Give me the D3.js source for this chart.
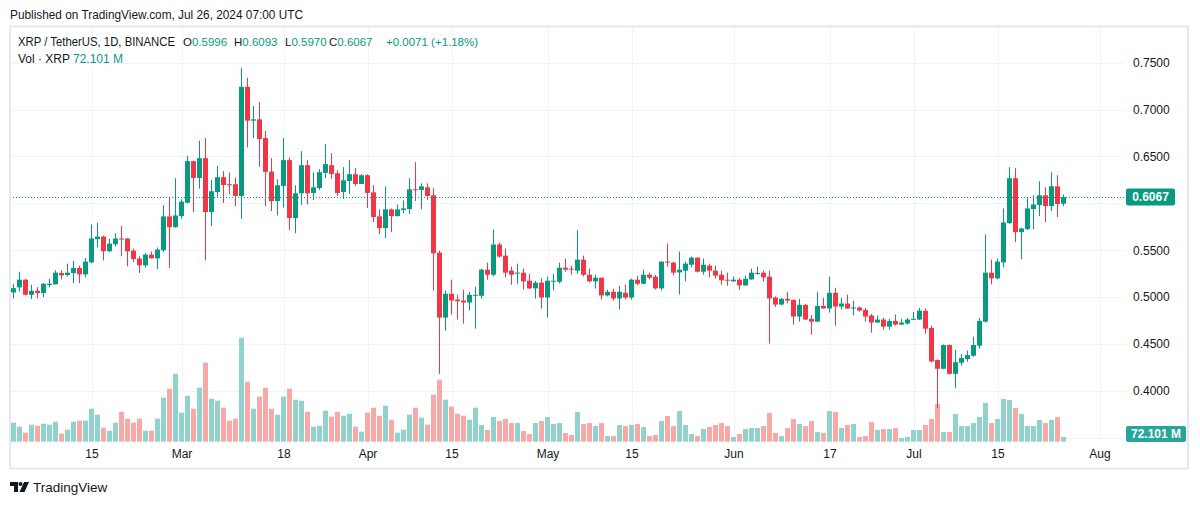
<!DOCTYPE html>
<html><head><meta charset="utf-8">
<script src="https://cdn.jsdelivr.net/npm/d3@7"></script>
<style>
body{margin:0;background:#fff;}
svg{display:block;font-family:"Liberation Sans",Arial,sans-serif;}
</style>
</head><body>
<svg id="chart" width="1200" height="505"></svg>
<script>
// ---------- data (XRP / TetherUS, 1D, BINANCE) ----------
const firstDay = "2024-02-02";
const lastDay = "2024-07-26";
const open = [0.5050,0.5104,0.5186,0.5025,0.5068,0.5043,0.5129,0.5136,0.5257,0.5236,0.5257,0.5311,0.5243,0.5371,0.5618,0.5646,0.5489,0.5564,0.5625,0.5625,0.5496,0.5411,0.5339,0.5454,0.5414,0.5500,0.5861,0.5746,0.5864,0.6007,0.6450,0.6271,0.6482,0.5907,0.6121,0.6279,0.6204,0.6204,0.6079,0.7243,0.6882,0.6896,0.6696,0.6339,0.6025,0.6186,0.6461,0.5843,0.6107,0.6407,0.6111,0.6164,0.6325,0.6407,0.6321,0.6121,0.6239,0.6311,0.6207,0.6300,0.6118,0.5861,0.5736,0.5936,0.5864,0.5929,0.5939,0.6150,0.6143,0.6171,0.6086,0.5475,0.4782,0.5036,0.4975,0.4964,0.4943,0.5018,0.5014,0.5293,0.5239,0.5561,0.5443,0.5282,0.5254,0.5261,0.5175,0.5093,0.5154,0.4996,0.5168,0.5164,0.5314,0.5304,0.5282,0.5400,0.5239,0.5168,0.5207,0.5018,0.5057,0.4986,0.5046,0.4996,0.5186,0.5143,0.5239,0.5218,0.5093,0.5379,0.5368,0.5264,0.5282,0.5346,0.5421,0.5271,0.5336,0.5282,0.5239,0.5186,0.5168,0.5186,0.5125,0.5189,0.5250,0.5261,0.5218,0.4996,0.4921,0.4982,0.4971,0.4793,0.4918,0.4768,0.4739,0.4907,0.4879,0.5046,0.4900,0.4932,0.4882,0.4889,0.4864,0.4804,0.4729,0.4761,0.4686,0.4746,0.4707,0.4718,0.4761,0.4761,0.4854,0.4671,0.4329,0.4236,0.4489,0.4182,0.4300,0.4339,0.4375,0.4482,0.4739,0.5261,0.5200,0.5371,0.5789,0.6268,0.5693,0.5725,0.5939,0.5982,0.6086,0.5971,0.6182,0.5996];
const high = [0.5143,0.5271,0.5193,0.5132,0.5107,0.5150,0.5196,0.5286,0.5286,0.5357,0.5386,0.5336,0.5418,0.5775,0.5793,0.5657,0.5621,0.5682,0.5757,0.5632,0.5518,0.5436,0.5471,0.5486,0.5529,0.5982,0.6071,0.6268,0.6043,0.6507,0.6455,0.6668,0.6696,0.6250,0.6400,0.6343,0.6329,0.6275,0.7446,0.7339,0.7036,0.7079,0.6771,0.6482,0.6257,0.6696,0.6489,0.6193,0.6557,0.6461,0.6329,0.6364,0.6632,0.6536,0.6354,0.6386,0.6461,0.6375,0.6311,0.6311,0.6193,0.5936,0.6182,0.5946,0.5989,0.6032,0.6268,0.6439,0.6214,0.6214,0.6161,0.5496,0.5071,0.5186,0.5025,0.5079,0.5057,0.5111,0.5304,0.5368,0.5721,0.5582,0.5518,0.5325,0.5357,0.5304,0.5250,0.5175,0.5200,0.5218,0.5250,0.5368,0.5411,0.5336,0.5711,0.5443,0.5304,0.5239,0.5210,0.5079,0.5089,0.5121,0.5132,0.5196,0.5229,0.5293,0.5261,0.5239,0.5382,0.5571,0.5379,0.5486,0.5379,0.5432,0.5424,0.5411,0.5357,0.5336,0.5282,0.5261,0.5218,0.5207,0.5229,0.5304,0.5325,0.5282,0.5282,0.5007,0.4993,0.5057,0.4975,0.4982,0.4925,0.4811,0.5057,0.4993,0.5218,0.5100,0.4993,0.5025,0.4961,0.4900,0.4886,0.4821,0.4804,0.4779,0.4768,0.4814,0.4768,0.4779,0.4843,0.4886,0.4879,0.4696,0.4335,0.4495,0.4495,0.4436,0.4393,0.4429,0.4579,0.4779,0.5668,0.5400,0.5411,0.5946,0.6386,0.6375,0.5740,0.6054,0.6086,0.6236,0.6171,0.6332,0.6300,0.6093];
const low = [0.4986,0.5061,0.5018,0.4979,0.4986,0.5000,0.5104,0.5136,0.5189,0.5221,0.5150,0.5150,0.5211,0.5360,0.5532,0.5393,0.5479,0.5543,0.5436,0.5329,0.5375,0.5257,0.5318,0.5411,0.5300,0.5479,0.5311,0.5740,0.5836,0.6000,0.5907,0.6157,0.5393,0.5757,0.6071,0.6004,0.6096,0.5971,0.5836,0.6596,0.6696,0.6389,0.5971,0.5918,0.5871,0.5954,0.5714,0.5682,0.5982,0.5989,0.6036,0.6143,0.6271,0.6261,0.6079,0.6046,0.6100,0.6186,0.6204,0.5950,0.5800,0.5671,0.5629,0.5693,0.5861,0.5896,0.5886,0.6025,0.5939,0.6036,0.5071,0.4182,0.4643,0.4814,0.4761,0.4718,0.4857,0.4664,0.4986,0.5186,0.5221,0.5421,0.5211,0.5132,0.5143,0.5082,0.5086,0.4986,0.4879,0.4782,0.5071,0.5146,0.5271,0.5239,0.5250,0.5221,0.5157,0.5093,0.4975,0.5007,0.4964,0.4868,0.4975,0.4975,0.5125,0.5136,0.5189,0.5082,0.5071,0.5325,0.5232,0.5029,0.5168,0.5318,0.5264,0.5239,0.5211,0.5200,0.5132,0.5121,0.5164,0.5079,0.5121,0.5186,0.5239,0.5168,0.4504,0.4896,0.4911,0.4932,0.4707,0.4739,0.4755,0.4600,0.4735,0.4879,0.4836,0.4696,0.4868,0.4875,0.4804,0.4846,0.4739,0.4621,0.4725,0.4654,0.4654,0.4696,0.4704,0.4707,0.4758,0.4757,0.4611,0.4304,0.3818,0.4230,0.4175,0.4029,0.4268,0.4311,0.4364,0.4450,0.4730,0.5136,0.5190,0.5318,0.5780,0.5586,0.5404,0.5714,0.5725,0.5864,0.5800,0.5918,0.5854,0.5970];
const close = [0.5096,0.5186,0.5025,0.5068,0.5043,0.5143,0.5143,0.5261,0.5232,0.5261,0.5311,0.5243,0.5379,0.5625,0.5646,0.5489,0.5571,0.5625,0.5614,0.5489,0.5407,0.5339,0.5454,0.5414,0.5507,0.5861,0.5746,0.5871,0.6018,0.6450,0.6271,0.6482,0.5907,0.6129,0.6279,0.6196,0.6193,0.6079,0.7243,0.6882,0.6896,0.6686,0.6336,0.6025,0.6193,0.6461,0.5843,0.6107,0.6407,0.6107,0.6171,0.6332,0.6418,0.6314,0.6111,0.6246,0.6311,0.6207,0.6300,0.6111,0.5854,0.5736,0.5936,0.5864,0.5936,0.5946,0.6150,0.6143,0.6182,0.6079,0.5468,0.4782,0.5036,0.4964,0.4957,0.4943,0.5025,0.5025,0.5293,0.5239,0.5561,0.5432,0.5261,0.5239,0.5261,0.5168,0.5093,0.5154,0.4996,0.5175,0.5175,0.5314,0.5293,0.5296,0.5400,0.5239,0.5168,0.5207,0.5018,0.5057,0.4986,0.5057,0.4996,0.5186,0.5143,0.5239,0.5207,0.5093,0.5379,0.5371,0.5261,0.5293,0.5357,0.5421,0.5271,0.5346,0.5282,0.5229,0.5179,0.5179,0.5186,0.5125,0.5196,0.5261,0.5257,0.5211,0.4986,0.4921,0.4982,0.4964,0.4793,0.4918,0.4761,0.4739,0.4907,0.4879,0.5046,0.4900,0.4932,0.4879,0.4889,0.4857,0.4793,0.4729,0.4761,0.4686,0.4746,0.4707,0.4729,0.4761,0.4768,0.4857,0.4664,0.4314,0.4236,0.4489,0.4182,0.4307,0.4350,0.4382,0.4489,0.4746,0.5261,0.5200,0.5379,0.5796,0.6268,0.5693,0.5732,0.5946,0.5989,0.6086,0.5971,0.6182,0.5993,0.6067];
const volume = [293,231,139,262,246,277,262,308,123,185,308,324,324,508,416,216,169,293,462,354,293,354,169,169,354,678,816,1047,447,708,508,832,1217,662,631,524,324,354,1602,924,508,693,832,508,416,693,816,647,631,462,231,246,477,385,462,400,431,231,154,447,524,400,554,339,139,185,416,524,370,262,724,955,647,539,431,400,339,524,257,180,380,318,349,287,287,164,118,287,318,380,272,287,134,103,457,272,287,241,287,87,87,257,241,257,272,226,87,103,318,396,241,472,257,118,87,195,226,257,287,241,72,118,195,210,210,241,442,134,87,210,349,272,241,318,149,134,472,457,210,257,272,72,87,303,180,195,195,210,57,72,180,180,257,349,580,149,149,426,241,241,287,380,596,287,349,657,642,519,426,241,241,334,287,334,380,72.101];
const priceTicks = [0.35,0.40,0.45,0.50,0.55,0.60,0.65,0.70,0.75];
const timeTicks = ["2024-02-15","2024-03-01","2024-03-18","2024-04-01","2024-04-15","2024-05-01","2024-05-15","2024-06-01","2024-06-17","2024-07-01","2024-07-15","2024-08-01"];
const timeLabels = ["15","Mar","18","Apr","15","May","15","Jun","17","Jul","15","Aug"];
const lastPrice = 0.6067;
const lastVolumeLabel = "72.101 M";

// ---------- setup ----------
const UP = "#089981", DOWN = "#F23645";
const VUP = "#92d2cc", VDOWN = "#f7a9a7";
const TXT = "#131722";
const days = d3.utcDay.range(new Date(firstDay), d3.utcDay.offset(new Date(lastDay), 1));
const bars = days.map((d, i) => ({date: d, o: open[i], h: high[i], l: low[i], c: close[i], v: volume[i]}));

const plot = {left: 10, top: 27, right: 1125, bottom: 442};
const x = d3.scaleUtc().domain([new Date("2024-02-01"), new Date("2024-08-01")]).range([7.5, 1099.5]);
const y = d3.scaleLinear().domain([0.35, 0.75]).range([437.8, 62.7]);
const yv = d3.scaleLinear().domain([0, 1000]).range([441.7, 441.7 - 1000 / 15.4]);

const svg = d3.select("#chart");
svg.append("rect").attr("width", 1200).attr("height", 505).attr("fill", "#fff");

svg.append("defs").append("clipPath").attr("id", "clip")
  .append("rect").attr("x", plot.left).attr("y", plot.top)
  .attr("width", plot.right - plot.left).attr("height", plot.bottom - plot.top);

// gridlines
const gy = svg.append("g").attr("transform", `translate(${plot.left},0)`)
  .call(d3.axisRight(y).tickValues(priceTicks).tickSize(plot.right - plot.left).tickFormat(""));
gy.select(".domain").remove();
gy.selectAll("line").attr("stroke", "#f0f3fa").attr("shape-rendering", "crispEdges");

const gx = svg.append("g").attr("transform", `translate(0,${plot.top})`)
  .call(d3.axisBottom(x).tickValues(timeTicks.map(d => new Date(d))).tickSize(plot.bottom - plot.top).tickFormat(""));
gx.select(".domain").remove();
gx.selectAll("line").attr("stroke", "#f0f3fa").attr("shape-rendering", "crispEdges");

// volume
const g = svg.append("g").attr("clip-path", "url(#clip)");
g.selectAll("rect.vol").data(bars).join("rect").attr("class", "vol")
  .attr("x", d => x(d.date) - 2.5).attr("width", 5)
  .attr("y", d => yv(d.v)).attr("height", d => yv(0) - yv(d.v))
  .attr("fill", d => d.c >= d.o ? VUP : VDOWN);

// candles
g.selectAll("line.wick").data(bars).join("line").attr("class", "wick")
  .attr("x1", d => x(d.date)).attr("x2", d => x(d.date))
  .attr("y1", d => y(d.h)).attr("y2", d => y(d.l))
  .attr("stroke", d => d.c >= d.o ? UP : DOWN).attr("stroke-width", 1);
g.selectAll("rect.body").data(bars).join("rect").attr("class", "body")
  .attr("x", d => x(d.date) - 2.5).attr("width", 5)
  .attr("y", d => y(Math.max(d.o, d.c)))
  .attr("height", d => Math.max(1, Math.abs(y(d.o) - y(d.c))))
  .attr("fill", d => d.c >= d.o ? UP : DOWN);

// last price line
svg.append("line").attr("x1", plot.left).attr("x2", plot.right)
  .attr("y1", Math.round(y(lastPrice)) + 0.5).attr("y2", Math.round(y(lastPrice)) + 0.5)
  .attr("stroke", UP).attr("stroke-dasharray", "1,2");

// price axis (0.35 and 0.60 labels are hidden behind the volume / last-price tags)
const ay = svg.append("g").attr("transform", `translate(1133,0)`)
  .call(d3.axisRight(y).tickValues(priceTicks.filter(v => v > 0.36 && Math.abs(v - 0.60) > 0.001))
    .tickSize(0).tickPadding(0).tickFormat(d3.format(".4f")));
ay.select(".domain").remove();
ay.selectAll("text").attr("fill", TXT).attr("font-size", 12).attr("font-family", "Liberation Sans, Arial, sans-serif");

// last price label
const ly = y(lastPrice);
svg.append("rect").attr("x", 1126).attr("y", ly - 8.5).attr("width", 49).attr("height", 17).attr("rx", 2).attr("fill", UP);
svg.append("text").attr("x", 1150.5).attr("y", ly).attr("dy", "0.35em").attr("text-anchor", "middle")
  .attr("fill", "#fff").attr("font-size", 12).attr("font-weight", "bold").text(d3.format(".4f")(lastPrice));

// volume label
const vy = 434;
svg.append("rect").attr("x", 1126).attr("y", vy - 8).attr("width", 60).attr("height", 16).attr("rx", 2).attr("fill", "#26a69a");
svg.append("text").attr("x", 1156).attr("y", vy).attr("dy", "0.35em").attr("text-anchor", "middle")
  .attr("fill", "#fff").attr("font-size", 12).attr("font-weight", "bold").text(lastVolumeLabel);

// time axis
const ax = svg.append("g").attr("transform", `translate(0,449)`)
  .call(d3.axisBottom(x).tickValues(timeTicks.map(d => new Date(d))).tickSize(0).tickPadding(0).tickFormat((d, i) => timeLabels[i]));
ax.select(".domain").remove();
ax.selectAll("text").attr("fill", TXT).attr("font-size", 12).attr("font-family", "Liberation Sans, Arial, sans-serif");

// frame
svg.append("rect").attr("x", 10).attr("y", 26.5).attr("width", 1178).attr("height", 442)
  .attr("fill", "none").attr("stroke", "#e6e8ee").attr("stroke-width", 2);

// header
svg.append("text").attr("x", 10).attr("y", 15).attr("dy", "0.35em").attr("font-size", 12).attr("fill", TXT)
  .attr("textLength", 293).attr("lengthAdjust", "spacingAndGlyphs")
  .text("Published on TradingView.com, Jul 26, 2024 07:00 UTC");
svg.append("text").attr("x", 18).attr("y", 42).attr("dy", "0.35em").attr("font-size", 12).attr("fill", TXT)
  .attr("textLength", 157).attr("lengthAdjust", "spacingAndGlyphs")
  .text("XRP / TetherUS, 1D, BINANCE");
const legend = [["O", open[open.length-1], 183], ["H", high[high.length-1], 234], ["L", low[low.length-1], 285], ["C", close[close.length-1], 329]];
legend.forEach(([k, v, px]) => {
  const t = svg.append("text").attr("x", px).attr("y", 42).attr("dy", "0.35em").attr("font-size", 11.5);
  t.append("tspan").attr("fill", TXT).text(k);
  t.append("tspan").attr("fill", UP).text(d3.format(".4f")(v));
});
svg.append("text").attr("x", 386).attr("y", 42).attr("dy", "0.35em").attr("font-size", 11.5).attr("fill", UP)
  .text("+0.0071 (+1.18%)");
svg.append("text").attr("x", 18).attr("y", 59).attr("dy", "0.35em").attr("font-size", 12).attr("fill", TXT)
  .text("Vol · XRP");
svg.append("text").attr("x", 73).attr("y", 59).attr("dy", "0.35em").attr("font-size", 12).attr("fill", UP)
  .text(lastVolumeLabel);

// logo
const logo = svg.append("g").attr("transform", "translate(10,482)").attr("fill", TXT);
logo.append("path").attr("d", "M0,0 H8 V10 H4 V4 H0 Z");
logo.append("circle").attr("cx", 10.5).attr("cy", 2).attr("r", 2);
logo.append("path").attr("d", "M14,0 H19 L14.5,10 H9.5 Z");
svg.append("text").attr("x", 33).attr("y", 487).attr("dy", "0.35em").attr("font-size", 13.5).attr("fill", TXT)
  .text("TradingView");
</script>
</body></html>
